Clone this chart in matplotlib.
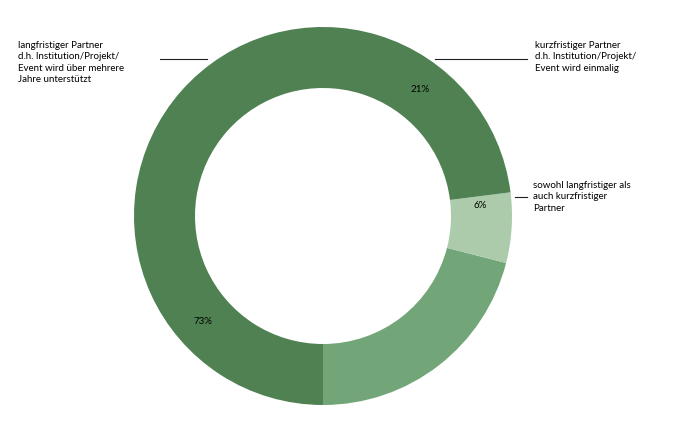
import matplotlib
matplotlib.use('Agg')
import matplotlib.pyplot as plt

labels = ['kurzfristiger Partner\nd.h. Institution/Projekt/\nEvent wird einmalig',
          'sowohl langfristiger als\nauch kurzfristiger\nPartner',
          'langfristiger Partner\nd.h. Institution/Projekt/\nEvent wird über mehrere\nJahre unterstützt']
values = [21, 6, 73]
colors = ['#72a577', '#abcbab', '#508153']

plt.rcParams['font.family'] = ['Lato', 'DejaVu Sans']
fig = plt.figure(figsize=(6.75, 4.22), dpi=100)
ax = fig.add_axes([0, 0, 1, 1])
ax.set_xlim(0, 675)
ax.set_ylim(422, 0)
ax.set_aspect('equal')
ax.axis('off')

cx, cy, r = 323, 216, 189
ax.pie(values, colors=colors, startangle=90, counterclock=False,
       center=(cx, cy), radius=r, frame=True,
       wedgeprops=dict(width=r - 128, linewidth=0))
ax.set_xlim(0, 675)
ax.set_ylim(422, 0)
ax.axis('off')

fs = 7
ax.text(420, 90, '21%', fontsize=fs, ha='center', va='center')
ax.text(480, 205, '6%', fontsize=fs, ha='center', va='center')
ax.text(203, 321, '73%', fontsize=fs, ha='center', va='center')

ax.text(535, 41, labels[0], fontsize=fs, ha='left', va='top', linespacing=1.35)
ax.plot([435, 527], [59, 59], color='#222222', lw=0.8)
ax.text(533, 181, labels[1], fontsize=fs, ha='left', va='top', linespacing=1.35)
ax.plot([515, 527], [197, 197], color='#222222', lw=0.8)
ax.text(18, 41, labels[2], fontsize=fs, ha='left', va='top', linespacing=1.35)
ax.plot([160, 207], [59, 59], color='#222222', lw=0.8)

fig.savefig('out.png', dpi=100)
